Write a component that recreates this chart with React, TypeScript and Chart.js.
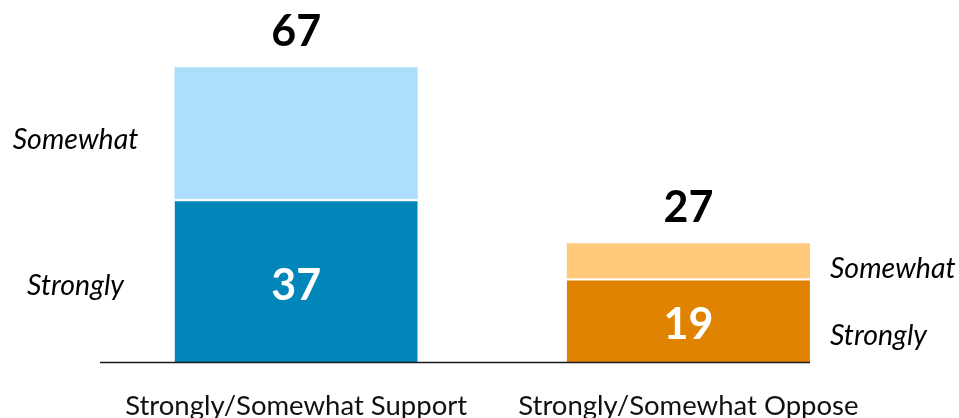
import React, { useEffect, useRef } from "react";
import { Chart, registerables } from "chart.js";

Chart.register(...registerables);

const categories = ["Strongly/Somewhat Support", "Strongly/Somewhat Oppose"];
const stronglyValues = [37, 19];
const somewhatValues = [30, 8];
const totalValues = [67, 27];
const segmentLabels = ["Strongly", "Somewhat"];

const stronglyColors = ["#0086B8", "#E08300"];
const somewhatColors = ["#ADDFFD", "#FFC87A"];

const FONT = "Lato, 'Open Sans', sans-serif";

const labelPlugin = {
  id: "labelPlugin",
  afterDatasetsDraw(chart: any) {
    const ctx = chart.ctx;
    const strong = chart.getDatasetMeta(0).data;
    const some = chart.getDatasetMeta(1).data;
    ctx.save();
    // baseline
    const lastBar = strong[strong.length - 1];
    ctx.strokeStyle = "#1a1a1a";
    ctx.lineWidth = 1.5;
    ctx.beginPath();
    ctx.moveTo(chart.chartArea.left, chart.chartArea.bottom + 0.5);
    ctx.lineTo(lastBar.x + lastBar.width / 2, chart.chartArea.bottom + 0.5);
    ctx.stroke();

    ctx.textBaseline = "alphabetic";
    strong.forEach((el: any, i: number) => {
      const top = some[i];
      // totals
      ctx.fillStyle = "#000";
      ctx.font = `bold 43px ${FONT}`;
      ctx.textAlign = "center";
      ctx.fillText(String(totalValues[i]), el.x, top.y - 21);
      // inside value
      ctx.fillStyle = "#fff";
      const sMid = (el.y + el.base) / 2;
      ctx.fillText(String(stronglyValues[i]), el.x, sMid + 19);
      // side labels
      ctx.fillStyle = "#000";
      ctx.font = `italic 28.5px ${FONT}`;
      const tMid = (top.y + top.base) / 2;
      if (i === 0) {
        ctx.textAlign = "center";
        const cx = el.x - el.width / 2 - 99;
        ctx.fillText(segmentLabels[1], cx, tMid + 16);
        ctx.fillText(segmentLabels[0], cx, sMid + 14);
      } else {
        ctx.textAlign = "left";
        const lx = el.x + el.width / 2 + 20;
        ctx.fillText(segmentLabels[1], lx, tMid + 17);
        ctx.fillText(segmentLabels[0], lx, sMid + 25);
      }
    });
    ctx.restore();
  },
};

export default function App() {
  const ref = useRef<HTMLCanvasElement>(null);
  useEffect(() => {
    document.body.style.margin = "0";
    const chart = new Chart(ref.current!, {
      type: "bar",
      data: {
        labels: categories,
        datasets: [
          {
            label: segmentLabels[0],
            data: stronglyValues,
            backgroundColor: stronglyColors,
            borderColor: "#ffffff",
            borderWidth: { top: 2, left: 0, right: 0, bottom: 0 },
            borderSkipped: false,
          },
          {
            label: segmentLabels[1],
            data: somewhatValues,
            backgroundColor: somewhatColors,
            borderWidth: 0,
          },
        ],
      },
      options: {
        responsive: false,
        animation: false,
        layout: { padding: { left: 100, right: 74.5, top: 10, bottom: 0 } },
        plugins: { legend: { display: false }, tooltip: { enabled: false } },
        datasets: { bar: { barPercentage: 0.62, categoryPercentage: 1 } },
        scales: {
          x: {
            stacked: true,
            grid: { display: false },
            border: { display: false },
            ticks: {
              color: "#111",
              font: { family: FONT, size: 27.5 },
              padding: 20,
              maxRotation: 0,
              autoSkip: false,
            },
            afterFit(scale: any) {
              scale.height = 56;
            },
          },
          y: {
            stacked: true,
            display: false,
            min: 0,
            max: 80,
          },
        },
      },
      plugins: [labelPlugin],
    });
    return () => chart.destroy();
  }, []);
  return (
    <div style={{ position: "fixed", left: 0, top: 0, width: 959, height: 418 }}>
      <canvas ref={ref} width={959} height={418} />
    </div>
  );
}
